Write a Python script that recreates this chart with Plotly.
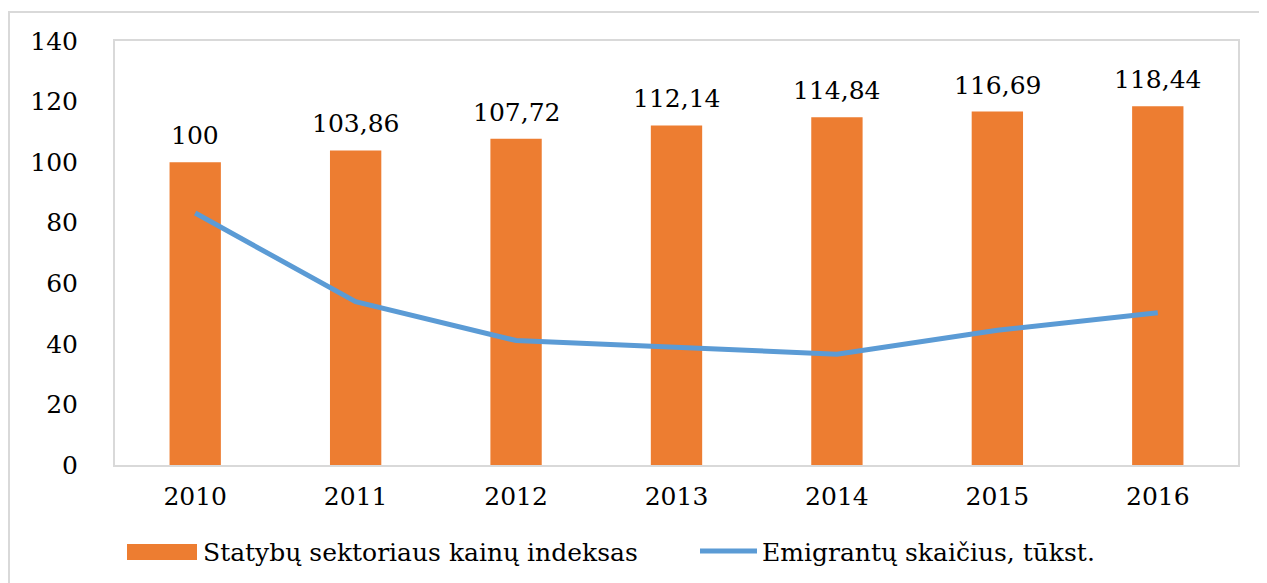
import plotly.graph_objects as go


# =====================================================
# DATA
# =====================================================

years = ["2010", "2011", "2012", "2013", "2014", "2015", "2016"]

price_index = [100, 103.86, 107.72, 112.14, 114.84, 116.69, 118.44]

emigrants = [83.2, 53.9, 41.1, 38.8, 36.6, 44.5, 50.3]

y_ticks = [0, 20, 40, 60, 80, 100, 120, 140]

bar_name = "Statybų sektoriaus kainų indeksas"
line_name = "Emigrantų skaičius, tūkst."


# =====================================================
# FIGURE
# =====================================================

FONT = "DejaVu Serif"
ORANGE = "#ED7D31"
BLUE = "#5B9BD5"
GREY = "#D9D9D9"
SIZE = 25

# plot area in screen pixels: x 115..1238, y 41..465
PW, PH = 1123, 424


def px(x):
    return (x - 115) / PW


def py(y):
    return (465 - y) / PH


fig = go.Figure()

fig.add_trace(
    go.Bar(
        x=years,
        y=price_index,
        name=bar_name,
        marker=dict(color=ORANGE, line=dict(width=0)),
        width=0.32,
    )
)

fig.add_trace(
    go.Scatter(
        x=years,
        y=emigrants,
        name=line_name,
        mode="lines",
        line=dict(color=BLUE, width=5),
    )
)

# value labels above the bars (category index, since "2010" would be read as a number)
for i, v in enumerate(price_index):
    fig.add_annotation(
        x=i,
        y=v,
        text=f"{v:g}".replace(".", ","),
        showarrow=False,
        yanchor="bottom",
        yshift=10,
        font=dict(family=FONT, size=SIZE, color="black"),
    )

# outer chart frame
fig.add_shape(
    type="rect",
    xref="paper", yref="paper",
    x0=px(9), x1=px(1290), y0=py(620), y1=py(12),
    line=dict(color=GREY, width=2),
    layer="below",
)

# custom legend
fig.add_shape(
    type="rect",
    xref="paper", yref="paper",
    x0=px(127), x1=px(197), y0=py(560), y1=py(544),
    fillcolor=ORANGE,
    line=dict(width=0),
)
fig.add_annotation(
    xref="paper", yref="paper",
    x=px(201), y=py(552),
    xanchor="left", yanchor="middle",
    text=bar_name,
    showarrow=False,
    font=dict(family=FONT, size=SIZE, color="black"),
)
fig.add_shape(
    type="line",
    xref="paper", yref="paper",
    x0=px(700), x1=px(757), y0=py(551), y1=py(551),
    line=dict(color=BLUE, width=5),
)
fig.add_annotation(
    xref="paper", yref="paper",
    x=px(760), y=py(552),
    xanchor="left", yanchor="middle",
    text=line_name,
    showarrow=False,
    font=dict(family=FONT, size=SIZE, color="black"),
)

# page body has an 8px margin, so shrink the figure to compensate
fig.update_layout(
    template="plotly_white",
    width=1259,
    height=575,
    margin=dict(l=107, r=29, t=33, b=118, autoexpand=False),
    showlegend=False,
    plot_bgcolor="white",
    paper_bgcolor="white",
    font=dict(family=FONT, size=SIZE, color="black"),
)

fig.update_xaxes(
    type="category",
    range=[-0.5, 6.5],
    showgrid=False,
    showline=True,
    mirror=True,
    linecolor=GREY,
    linewidth=2,
    ticks="",
    ticklabelstandoff=8,
    tickfont=dict(family=FONT, size=SIZE, color="black"),
    automargin=False,
)

fig.update_yaxes(
    range=[0, 140],
    tickvals=y_ticks,
    showgrid=False,
    zeroline=False,
    showline=True,
    mirror=True,
    linecolor=GREY,
    linewidth=2,
    ticks="",
    ticklabelstandoff=30,
    tickfont=dict(family=FONT, size=SIZE, color="black"),
    automargin=False,
)

fig.write_html("out.html")
